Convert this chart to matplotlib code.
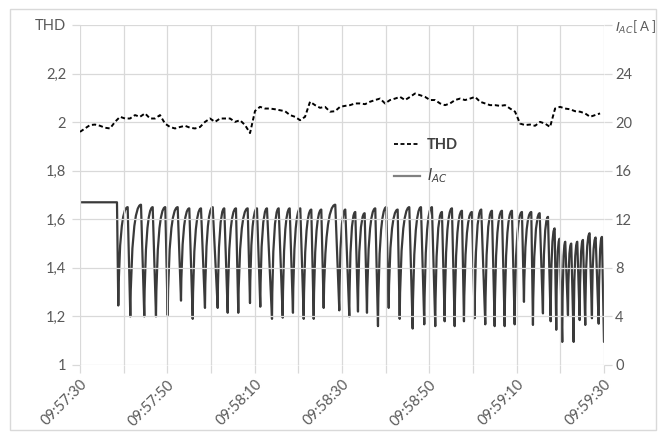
import numpy as np
import matplotlib
matplotlib.use("Agg")
import matplotlib.pyplot as plt
from matplotlib.lines import Line2D
from matplotlib.patches import Rectangle, PathPatch
from matplotlib.path import Path

plt.rcParams['font.family'] = ['Lato', 'DejaVu Sans']
plt.rcParams['mathtext.fontset'] = 'dejavusans'

# ---------------- data ----------------
# seconds after 09:57:30
x_ticks = [0, 10, 20, 30, 40, 50, 60, 70, 80, 90, 100, 110, 120]
x_labels = ['09:57:30', '', '09:57:50', '', '09:58:10', '', '09:58:30', '',
            '09:58:50', '', '09:59:10', '', '09:59:30']
thd_ticks = [1.0, 1.2, 1.4, 1.6, 1.8, 2.0, 2.2, 2.4]
thd_labels = ['1', '1,2', '1,4', '1,6', '1,8', '2', '2,2', 'THD']
iac_ticks = [0, 4, 8, 12, 16, 20, 24, 28]
iac_labels = ['0', '4', '8', '12', '16', '20', '24', r'$I_{AC}$[ A ]']

thd_vals = [1.960, 1.974, 1.988, 1.990, 1.985, 1.977, 1.974, 2.001, 2.022, 2.015,
            2.015, 2.029, 2.022, 2.036, 2.015, 2.015, 2.029, 1.994, 1.980, 1.974,
            1.980, 1.985, 1.977, 1.974, 1.980, 2.001, 2.015, 2.001, 2.015, 2.015,
            2.015, 2.001, 2.008, 1.988, 1.955, 2.046,
            2.063, 2.056, 2.056, 2.053, 2.049, 2.045, 2.029, 2.022, 2.008, 2.022,
            2.084, 2.070, 2.059, 2.063, 2.043, 2.045, 2.063, 2.067, 2.070, 2.077,
            2.077, 2.074, 2.084, 2.091, 2.097, 2.077, 2.091, 2.097, 2.104, 2.091,
            2.104, 2.118, 2.111, 2.104, 2.091,
            2.091, 2.077, 2.070, 2.077, 2.091, 2.097, 2.091, 2.097, 2.104, 2.084,
            2.077, 2.070, 2.070, 2.067, 2.070, 2.056, 2.043, 1.994, 1.988, 1.990,
            1.985, 2.001, 1.994, 1.980, 2.056, 2.063, 2.056, 2.053, 2.045, 2.043,
            2.036, 2.022, 2.029, 2.036]
thd_t = np.linspace(0, 119.1, len(thd_vals))

# I_AC: constant start, then alternating trough / peak points
iac_t = [0, 8.47,
         8.77, 10.92, 11.52, 13.97, 14.72, 16.65, 17.40, 19.53, 20.08, 22.37,
         23.13, 25.03, 25.81, 27.71, 28.62, 30.39, 31.53, 33.04, 33.82, 35.72,
         36.25, 38.40, 38.93, 40.53, 41.29, 42.82, 43.97, 45.50, 46.42, 48.02,
         48.77, 50.45, 51.23, 52.97, 53.52, 55.26, 55.80, 58.46, 59.38, 60.75,
         61.67, 63.04, 63.66, 65.19, 65.72, 67.62, 68.24, 70.14, 70.69, 72.75,
         73.21, 75.41, 76.18, 78.09, 78.84, 80.60, 81.36, 82.89, 83.51, 85.18,
         85.80, 87.47, 87.93, 89.76, 90.38, 91.89, 92.81, 94.34, 94.96, 96.63,
         97.25, 98.92, 99.54, 101.21, 101.67, 103.35, 103.73, 105.27, 106.02, 107.17,
         107.79, 108.70, 109.07, 109.85, 110.44, 111.13, 111.75, 112.50, 113.05, 113.88,
         114.43, 115.18, 115.71, 116.71, 117.24, 118.09, 118.78, 119.53,
         120.0]
iac_vals = [13.4, 13.4,
            4.9, 13.0, 4.0, 13.2, 4.0, 13.0, 4.0, 13.0, 4.1, 13.0,
            5.3, 12.9, 3.8, 12.9, 4.7, 13.0, 4.7, 12.9, 4.3, 12.9,
            4.3, 12.9, 5.1, 12.9, 4.8, 12.9, 3.8, 12.9, 3.9, 12.9,
            4.3, 12.9, 3.8, 12.8, 3.8, 12.8, 4.7, 13.2, 4.5, 12.8,
            4.0, 12.6, 4.4, 12.5, 4.3, 12.9, 3.2, 13.0, 4.7, 12.8,
            3.8, 13.0, 3.0, 13.0, 3.35, 13.0, 3.2, 12.6, 3.6, 12.9,
            3.2, 12.7, 3.6, 12.6, 3.85, 12.8, 3.35, 12.7, 3.2, 12.7,
            3.2, 12.7, 3.35, 12.6, 5.2, 12.6, 3.3, 12.5, 4.25, 12.2,
            3.6, 11.25, 2.9, 10.4, 1.9, 10.15, 4.1, 10.0, 1.9, 10.15,
            3.7, 10.3, 3.3, 10.85, 3.85, 10.5, 3.4, 10.55,
            1.9]

# ---------------- figure ----------------
W, H = 659, 432
fig = plt.figure(figsize=(W / 100, H / 100), dpi=100)
fig.patches.append(Rectangle((10 / W, 2 / H), 646 / W, 421 / H, transform=fig.transFigure,
                             fill=False, edgecolor='#d9d9d9', linewidth=1.0))

ax = fig.add_axes([80 / W, 1 - 365 / H, 524 / W, 340 / H])
ax2 = ax.twinx()

grid_c = '#d9d9d9'
txt_c = '#595959'

ax.set_xlim(0, 120)
ax.set_ylim(1.0, 2.4)
ax2.set_ylim(0, 28)

ax.set_xticks(x_ticks)
ax.set_xticklabels(x_labels, rotation=45, ha='right', va='top', rotation_mode='anchor')
ax.set_yticks(thd_ticks)
ax.set_yticklabels(thd_labels)
ax2.set_yticks(iac_ticks)
ax2.set_yticklabels(iac_labels)

for a in (ax, ax2):
    for s in a.spines.values():
        s.set_visible(False)
ax.grid(True, color=grid_c, linewidth=0.9)
ax.set_axisbelow(True)
ax.tick_params(axis='both', colors=grid_c, labelcolor=txt_c, labelsize=10.5, length=6, width=0.9)
ax.tick_params(axis='x', pad=3)
ax.tick_params(axis='y', pad=4)
ax2.tick_params(axis='y', colors=grid_c, labelcolor=txt_c, labelsize=10.5, length=6, width=0.9, pad=2)
top_lbl = ax2.get_yticklabels()[-1]
top_lbl.set_fontsize(9.5)

# I_AC drawn as a smoothed line through its trough/peak points:
# curved rise into each peak, straight fall into each trough
verts = [(iac_t[0], iac_vals[0]), (iac_t[1], iac_vals[1]), (iac_t[2], iac_vals[2])]
codes = [Path.MOVETO, Path.LINETO, Path.LINETO]
for i in range(2, len(iac_t) - 1):
    t0, v0, t1, v1 = iac_t[i], iac_vals[i], iac_t[i + 1], iac_vals[i + 1]
    if v1 > v0:
        verts += [(t0 + 0.12 * (t1 - t0), v1), (t1, v1)]
        codes += [Path.CURVE3, Path.CURVE3]
    else:
        verts += [(t1, v1)]
        codes += [Path.LINETO]
ax2.add_patch(PathPatch(Path(verts, codes), facecolor='none', edgecolor='#3a3a3a',
                        linewidth=1.6, zorder=3, joinstyle='round', capstyle='round'))

ax.plot(thd_t, thd_vals, color='black', linewidth=1.4, linestyle=(0, (2.2, 1.4)), zorder=4)
ax.set_zorder(ax2.get_zorder() + 1)
ax.patch.set_visible(False)

handles = [Line2D([], [], color='black', linewidth=1.3, linestyle=(0, (2.2, 1.4))),
           Line2D([], [], color='#808080', linewidth=1.6)]
leg = ax.legend(handles, ['THD', r'$I_{AC}$'], loc='center', bbox_to_anchor=(0.66, 0.598),
                frameon=False, fontsize=10.5, handlelength=1.8, labelspacing=1.0,
                handletextpad=0.5)
for t in leg.get_texts():
    t.set_color('#404040')
    t.set_fontweight('bold')

fig.savefig('out.png', dpi=100)
